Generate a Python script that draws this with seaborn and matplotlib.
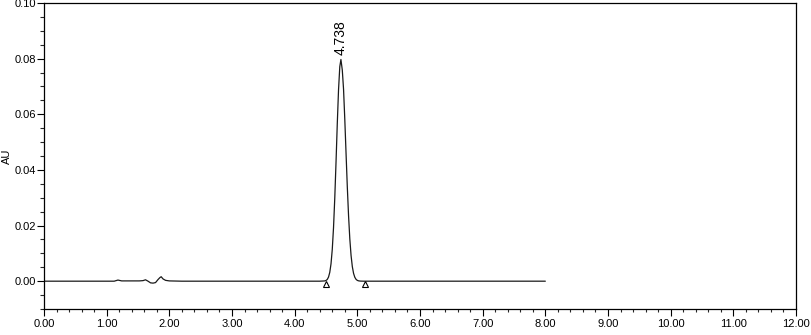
import matplotlib
matplotlib.use("Agg")
import matplotlib.pyplot as plt
import seaborn as sns
import pandas as pd
from matplotlib.ticker import MultipleLocator, FormatStrFormatter

# Chromatogram trace (time in min, absorbance in AU)
time_min = [0.00, 0.50, 1.00, 1.12, 1.18, 1.24, 1.40, 1.52, 1.58, 1.62, 1.66,
            1.70, 1.74, 1.78, 1.82, 1.85, 1.87, 1.90, 1.94, 2.00, 2.20, 3.00,
            4.00, 4.40, 4.48, 4.50, 4.52, 4.54, 4.56, 4.58, 4.60, 4.62, 4.64,
            4.66, 4.68, 4.70, 4.72, 4.738, 4.76, 4.78, 4.80, 4.82, 4.84, 4.86,
            4.88, 4.90, 4.92, 4.94, 4.96, 4.98, 5.00, 5.02, 5.05, 5.10, 5.20,
            6.00, 7.00, 8.00]
absorbance = [0.0000, 0.0000, 0.0000, 0.0000, 0.0004, 0.0001, 0.0001, 0.0001,
              0.0002, 0.0005, 0.0000, -0.0006, -0.0007, -0.0005, 0.0006, 0.0013,
              0.0016, 0.0008, 0.0003, 0.0001, 0.0000, 0.0000, 0.0000, 0.0000,
              0.00009, 0.00025, 0.00062, 0.00146, 0.00315, 0.00624, 0.01142,
              0.01925, 0.0299, 0.0428, 0.0566, 0.0688, 0.0771, 0.0797, 0.0759,
              0.0690, 0.0581, 0.0459, 0.0339, 0.0235, 0.0152, 0.00923, 0.00524,
              0.00279, 0.00139, 0.00065, 0.00028, 0.00012, 0.00003, 0.0000,
              0.0000, 0.0000, 0.0000, 0.0000]

peak_time = [4.738]
peak_height = [0.0797]
peak_labels = ["4.738"]
baseline_marks_t = [4.50, 5.13]
baseline_marks_y = [-0.0011, -0.0011]

x_tick_vals = [float(v) for v in range(0, 13)]

df = pd.DataFrame({"time": time_min, "AU": absorbance})

sns.set_style("ticks")
plt.rcParams["font.family"] = ["Liberation Sans", "DejaVu Sans"]

fig = plt.figure(figsize=(8.12, 3.35), dpi=100)
ax = fig.add_axes([44 / 812, 1 - 309 / 335, (796 - 44) / 812, (309 - 3) / 335])

sns.lineplot(data=df, x="time", y="AU", ax=ax, color="#1a1a1a", linewidth=0.9,
             estimator=None, sort=False)
ax.plot(baseline_marks_t, baseline_marks_y, linestyle="none", marker="^",
        markersize=4.5, markerfacecolor="white", markeredgecolor="black",
        markeredgewidth=0.8)
for t, h, lab in zip(peak_time, peak_height, peak_labels):
    ax.text(t, h + 0.0016, lab, rotation=90, ha="center", va="bottom",
            fontsize=10, color="black")

ax.set_xlim(0, 12)
ax.set_ylim(-0.01, 0.10)
ax.set_xticks(x_tick_vals)
ax.xaxis.set_major_formatter(FormatStrFormatter("%.2f"))
ax.xaxis.set_minor_locator(MultipleLocator(0.2))
ax.yaxis.set_major_locator(MultipleLocator(0.02))
ax.yaxis.set_major_formatter(FormatStrFormatter("%.2f"))
ax.yaxis.set_minor_locator(MultipleLocator(0.005))
ax.set_xlabel("")
ax.set_ylabel("")
fig.text(6.5 / 812, 1 - 156 / 335, "AU", rotation=90, ha="center", va="center",
         fontsize=8, color="black")

for side in ["top", "right", "left", "bottom"]:
    ax.spines[side].set_visible(True)
    ax.spines[side].set_color("black")
    ax.spines[side].set_linewidth(0.9)

ax.tick_params(axis="both", which="major", direction="out", length=5,
               width=0.8, labelsize=8, colors="black")
ax.tick_params(axis="x", which="major", pad=2)
ax.tick_params(axis="y", which="major", pad=0.5)
ax.tick_params(axis="x", which="minor", direction="out", length=2.5, width=0.8)
ax.tick_params(axis="y", which="minor", direction="out", length=3.2, width=0.8)
ax.tick_params(top=False, right=False, which="both")

fig.savefig("out.png", dpi=100)
